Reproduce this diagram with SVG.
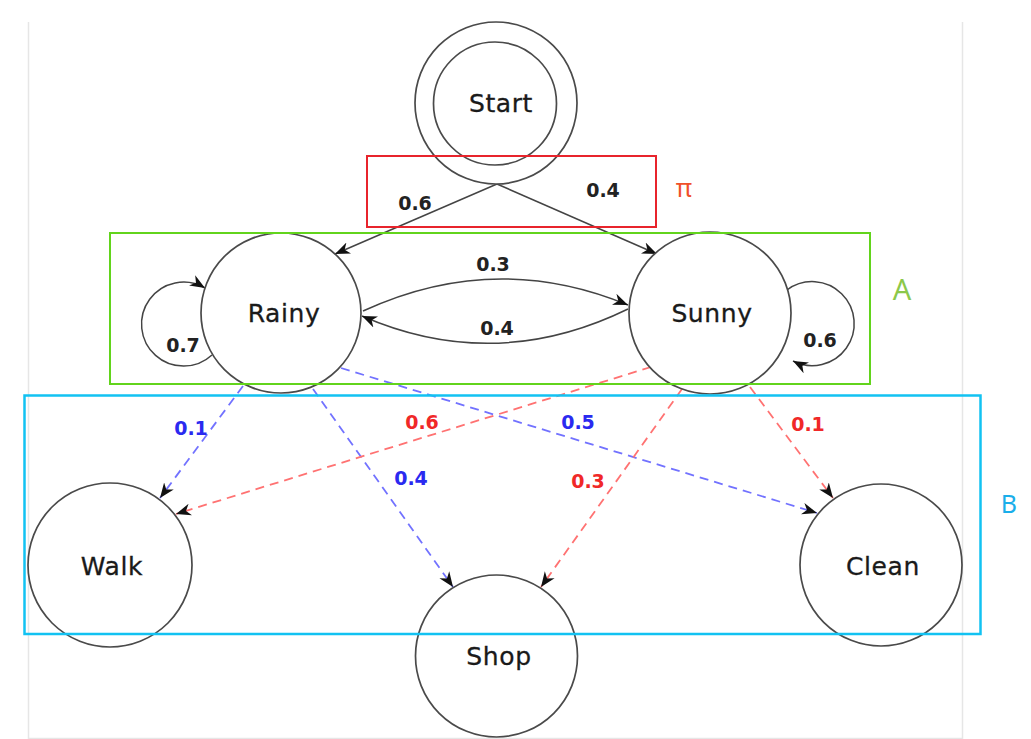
<svg xmlns="http://www.w3.org/2000/svg" width="1031" height="739" viewBox="0 0 1031 739">
<defs>
<marker id="arr" markerWidth="18" markerHeight="14" refX="15" refY="7" orient="auto" markerUnits="userSpaceOnUse">
<path d="M0,1 L15,7 L0,13 L4.5,7 z" fill="#111"/>
</marker>
<style>
.node{fill:#fff;stroke:#4a4a4a;stroke-width:1.7}
.lbl{font-family:"DejaVu Sans",sans-serif;font-size:25px;fill:#1a1a1a;text-anchor:middle;letter-spacing:0.6px;stroke:#1a1a1a;stroke-width:0.3}
.edge{fill:none;stroke:#444;stroke-width:1.5;marker-end:url(#arr)}
.b{stroke:#7272ff}
.r{stroke:#ff7272}
.dash{fill:none;stroke-width:1.8;stroke-dasharray:9 6;marker-end:url(#arr)}
.num{font-family:"DejaVu Sans",sans-serif;font-size:19px;font-weight:bold;text-anchor:middle}
.nk{fill:#222}.nb{fill:#2a2af0}.nr{fill:#f02828}
.box{fill:none}
.frame{stroke:#e6e6e6;stroke-width:1.5;fill:none}
.tag{font-family:"Noto Sans",sans-serif;text-anchor:middle}
</style>
</defs>
<rect width="1031" height="739" fill="#fff"/>
<path class="frame" d="M28.5,22 V738.5 H962.5 V22"/>

<g id="connectors">
<path class="edge" d="M497,184 L335,254"/>
<path class="edge" d="M497,184 L657,254"/>
<path class="edge" d="M363,311 Q495,250 628,305"/>
<path class="edge" d="M628,309 Q495,374 362,316"/>
<path class="edge" d="M212,355 A42,42 0 1 1 205,288"/>
<path class="edge" d="M787,290 A42,42 0 1 1 793,361"/>
<path class="dash b" d="M243,386 L160,498"/>
<path class="dash b" d="M313,389 L453,587"/>
<path class="dash b" d="M341,368 L817,513"/>
<path class="dash r" d="M651,367 L176,514"/>
<path class="dash r" d="M682,389 L541,587"/>
<path class="dash r" d="M750,387 L833,498"/>
<text class="num nk" x="415" y="210">0.6</text>
<text class="num nk" x="603" y="197">0.4</text>
<text class="num nk" x="493" y="271">0.3</text>
<text class="num nk" x="497" y="335">0.4</text>
<text class="num nk" x="183" y="352">0.7</text>
<text class="num nk" x="820" y="347">0.6</text>
<text class="num nb" x="191" y="435">0.1</text>
<text class="num nr" x="422" y="429">0.6</text>
<text class="num nb" x="411" y="485">0.4</text>
<text class="num nb" x="578" y="429">0.5</text>
<text class="num nr" x="588" y="488">0.3</text>
<text class="num nr" x="808" y="431">0.1</text>
</g>

<g id="start">
<circle class="node" cx="496" cy="103" r="81"/>
<circle class="node" cx="495" cy="103.5" r="61.5"/>
<text class="lbl" x="501" y="112">Start</text>
</g>
<g id="rainy">
<circle class="node" cx="281" cy="313" r="80"/>
<text class="lbl" x="284" y="322">Rainy</text>
</g>
<g id="sunny">
<circle class="node" cx="710" cy="313" r="81"/>
<text class="lbl" x="712" y="322">Sunny</text>
</g>
<g id="walk">
<circle class="node" cx="110" cy="565" r="82"/>
<text class="lbl" x="112" y="575">Walk</text>
</g>
<g id="shop">
<circle class="node" cx="496.5" cy="656" r="81"/>
<text class="lbl" x="499" y="665">Shop</text>
</g>
<g id="clean">
<circle class="node" cx="881" cy="565" r="81"/>
<text class="lbl" x="883" y="575">Clean</text>
</g>

<g id="boxes">
<rect class="box" x="367" y="156" width="289" height="71" stroke="#e8242c" stroke-width="2"/>
<text class="tag" x="684" y="197" font-size="25" fill="#f0502a">π</text>
<rect class="box" x="110" y="233" width="760" height="151" stroke="#62d41c" stroke-width="2"/>
<text class="tag" x="902" y="300" font-size="29" fill="#8cc84a">A</text>
<rect class="box" x="24.5" y="395.5" width="956" height="238.5" stroke="#12c2f2" stroke-width="2.5"/>
<text class="tag" x="1009" y="513" font-size="25" fill="#1aaeea">B</text>
</g>
</svg>
